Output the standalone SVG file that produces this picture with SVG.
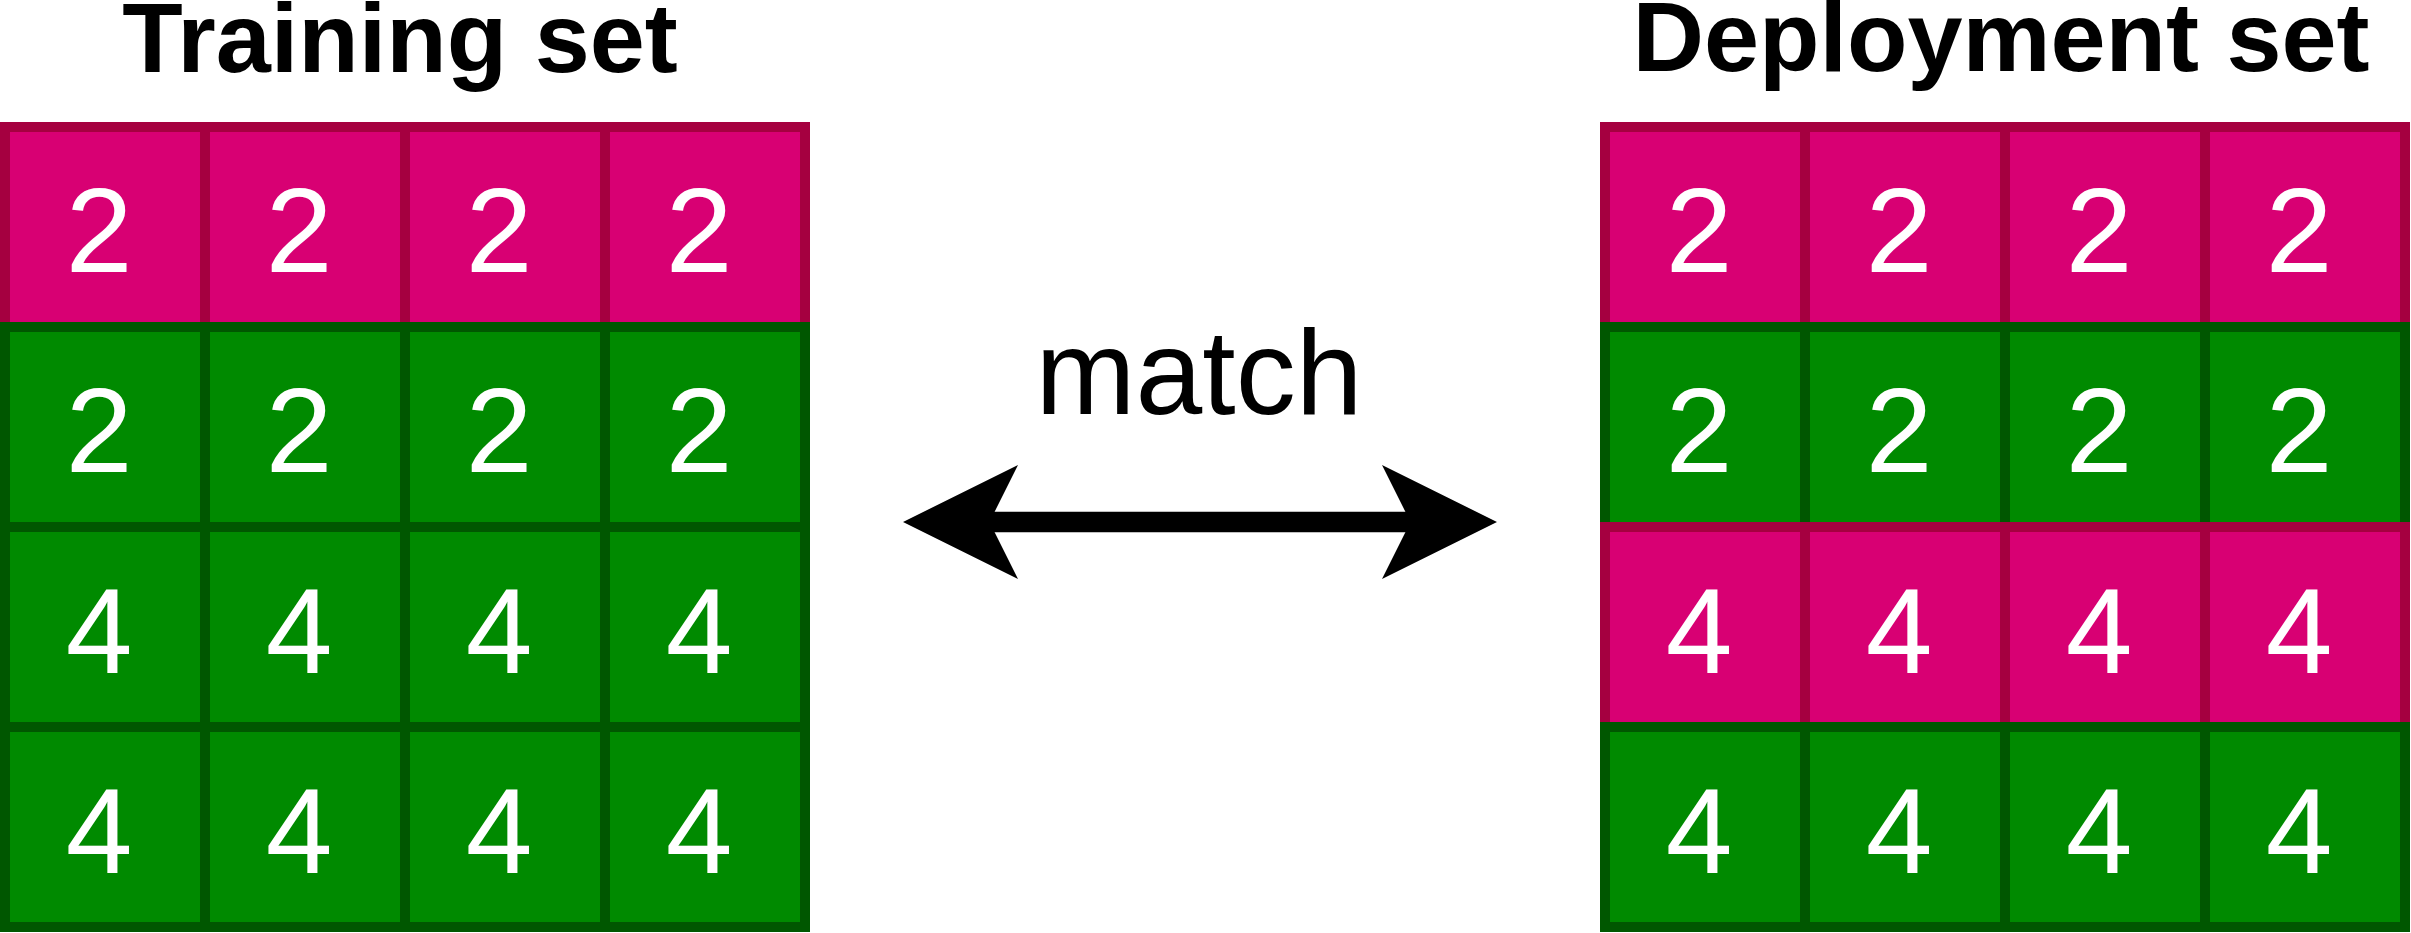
<svg xmlns="http://www.w3.org/2000/svg" width="2411" height="933" viewBox="0 0 2411 933">
<style>
.pk{fill:#d80073;stroke:#a50040;stroke-width:10}
.gr{fill:#008a00;stroke:#005700;stroke-width:10}
.d{font-family:"Liberation Sans",Arial,sans-serif;font-size:120px;fill:#ffffff;text-anchor:middle}
.t{font-family:"Liberation Sans",Arial,sans-serif;font-size:99px;font-weight:bold;fill:#000000;text-anchor:middle}
.m{font-family:"Liberation Sans",Arial,sans-serif;font-size:120px;fill:#000000;text-anchor:middle}
</style>
<defs>
<marker id="ah" markerUnits="userSpaceOnUse" viewBox="0 0 115 114" markerWidth="115" markerHeight="114" refX="30" refY="57" orient="auto-start-reverse">
<path d="M115,57 L0,0 L28.5,57 L0,114 Z" fill="#000000"/>
</marker>
</defs>
<rect width="2411" height="933" fill="#ffffff"/>
<g id="title-training"><text class="t" x="400" y="72">Training set</text></g>
<g id="title-deployment"><text class="t" x="2001" y="71">Deployment set</text></g>
<g id="training-grid">
<g id="tr-r1c1"><rect class="pk" x="5" y="127" width="200" height="200"/><text class="d" x="99" y="272">2</text></g>
<g id="tr-r1c2"><rect class="pk" x="205" y="127" width="200" height="200"/><text class="d" x="299" y="272">2</text></g>
<g id="tr-r1c3"><rect class="pk" x="405" y="127" width="200" height="200"/><text class="d" x="499" y="272">2</text></g>
<g id="tr-r1c4"><rect class="pk" x="605" y="127" width="200" height="200"/><text class="d" x="699" y="272">2</text></g>
<g id="tr-r2c1"><rect class="gr" x="5" y="327" width="200" height="200"/><text class="d" x="99" y="472">2</text></g>
<g id="tr-r2c2"><rect class="gr" x="205" y="327" width="200" height="200"/><text class="d" x="299" y="472">2</text></g>
<g id="tr-r2c3"><rect class="gr" x="405" y="327" width="200" height="200"/><text class="d" x="499" y="472">2</text></g>
<g id="tr-r2c4"><rect class="gr" x="605" y="327" width="200" height="200"/><text class="d" x="699" y="472">2</text></g>
<g id="tr-r3c1"><rect class="gr" x="5" y="527" width="200" height="200"/><text class="d" x="99" y="673">4</text></g>
<g id="tr-r3c2"><rect class="gr" x="205" y="527" width="200" height="200"/><text class="d" x="299" y="673">4</text></g>
<g id="tr-r3c3"><rect class="gr" x="405" y="527" width="200" height="200"/><text class="d" x="499" y="673">4</text></g>
<g id="tr-r3c4"><rect class="gr" x="605" y="527" width="200" height="200"/><text class="d" x="699" y="673">4</text></g>
<g id="tr-r4c1"><rect class="gr" x="5" y="727" width="200" height="200"/><text class="d" x="99" y="873">4</text></g>
<g id="tr-r4c2"><rect class="gr" x="205" y="727" width="200" height="200"/><text class="d" x="299" y="873">4</text></g>
<g id="tr-r4c3"><rect class="gr" x="405" y="727" width="200" height="200"/><text class="d" x="499" y="873">4</text></g>
<g id="tr-r4c4"><rect class="gr" x="605" y="727" width="200" height="200"/><text class="d" x="699" y="873">4</text></g>
</g>
<g id="deployment-grid">
<g id="dp-r1c1"><rect class="pk" x="1605" y="127" width="200" height="200"/><text class="d" x="1699" y="272">2</text></g>
<g id="dp-r1c2"><rect class="pk" x="1805" y="127" width="200" height="200"/><text class="d" x="1899" y="272">2</text></g>
<g id="dp-r1c3"><rect class="pk" x="2005" y="127" width="200" height="200"/><text class="d" x="2099" y="272">2</text></g>
<g id="dp-r1c4"><rect class="pk" x="2205" y="127" width="200" height="200"/><text class="d" x="2299" y="272">2</text></g>
<g id="dp-r2c1"><rect class="gr" x="1605" y="327" width="200" height="200"/><text class="d" x="1699" y="472">2</text></g>
<g id="dp-r2c2"><rect class="gr" x="1805" y="327" width="200" height="200"/><text class="d" x="1899" y="472">2</text></g>
<g id="dp-r2c3"><rect class="gr" x="2005" y="327" width="200" height="200"/><text class="d" x="2099" y="472">2</text></g>
<g id="dp-r2c4"><rect class="gr" x="2205" y="327" width="200" height="200"/><text class="d" x="2299" y="472">2</text></g>
<g id="dp-r3c1"><rect class="pk" x="1605" y="527" width="200" height="200"/><text class="d" x="1699" y="673">4</text></g>
<g id="dp-r3c2"><rect class="pk" x="1805" y="527" width="200" height="200"/><text class="d" x="1899" y="673">4</text></g>
<g id="dp-r3c3"><rect class="pk" x="2005" y="527" width="200" height="200"/><text class="d" x="2099" y="673">4</text></g>
<g id="dp-r3c4"><rect class="pk" x="2205" y="527" width="200" height="200"/><text class="d" x="2299" y="673">4</text></g>
<g id="dp-r4c1"><rect class="gr" x="1605" y="727" width="200" height="200"/><text class="d" x="1699" y="873">4</text></g>
<g id="dp-r4c2"><rect class="gr" x="1805" y="727" width="200" height="200"/><text class="d" x="1899" y="873">4</text></g>
<g id="dp-r4c3"><rect class="gr" x="2005" y="727" width="200" height="200"/><text class="d" x="2099" y="873">4</text></g>
<g id="dp-r4c4"><rect class="gr" x="2205" y="727" width="200" height="200"/><text class="d" x="2299" y="873">4</text></g>
</g>
<g id="connectors">
<line x1="988" y1="522" x2="1412" y2="522" stroke="#000000" stroke-width="20.6" marker-start="url(#ah)" marker-end="url(#ah)"/>
<text class="m" x="1199" y="414">match</text>
</g>
</svg>
